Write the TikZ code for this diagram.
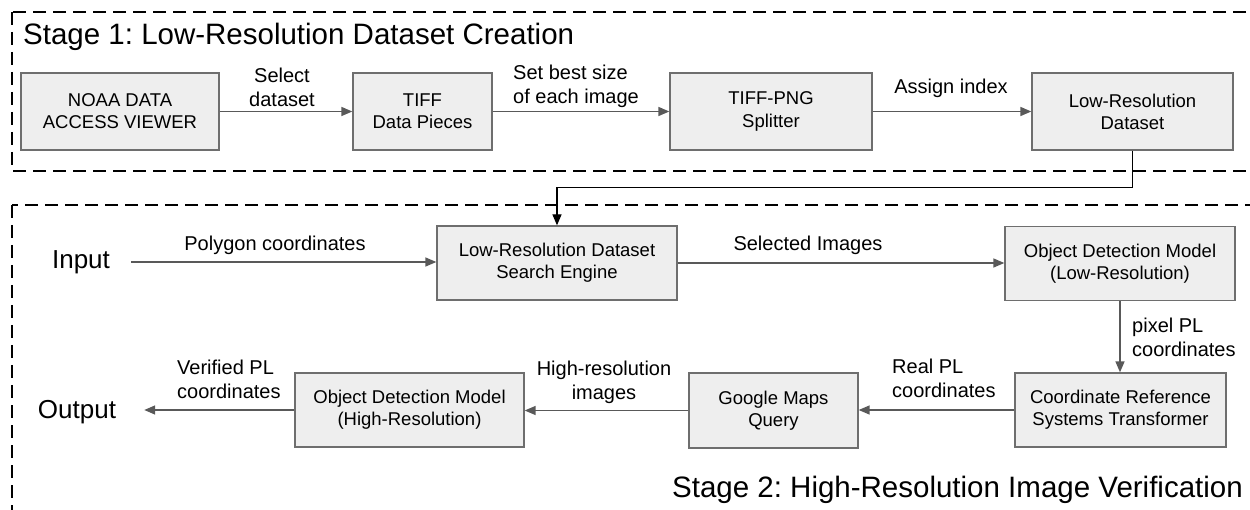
\documentclass[tikz,border=0pt]{standalone}
\usepackage{fontspec}
\setmainfont{Liberation Sans}
\usetikzlibrary{arrows.meta}
\frenchspacing
\definecolor{boxfill}{HTML}{EEEEEE}
\definecolor{boxline}{HTML}{6E6E6E}
\definecolor{flow}{HTML}{595959}
\tikzset{
  stagebox/.style={draw=black, line width=2pt, dash pattern=on 13pt off 7pt},
  proc/.style={draw=boxline, fill=boxfill, line width=1.3pt, inner sep=0pt,
    align=center, font=\fontsize{18.5}{22.2}\selectfont},
  flowarrow/.style={draw=flow, line width=1.5pt, -{Triangle[length=11pt,width=9pt]}},
  feed/.style={draw=black, line width=1.3pt, -{Triangle[length=11pt,width=9pt]}},
  lbl/.style={font=\fontsize{20}{24}\selectfont, inner sep=0pt},
  io/.style={font=\fontsize{26}{30}\selectfont, inner sep=0pt},
  stagetitle/.style={font=\fontsize{29.5}{34}\selectfont, inner sep=0pt},
}
\begin{document}
\begin{tikzpicture}[x=1pt, y=-1pt]
  \useasboundingbox (0,0) rectangle (1250,510);
  \clip (0,0) rectangle (1250,510);

  % stage frames (open to the right and bottom)
  \draw[stagebox] (12,12) rectangle (1280,171);
  \draw[stagebox] (12,205) rectangle (1280,540);

  \node[stagetitle, anchor=west] (t1) at (23,37) {Stage 1: Low-Resolution Dataset Creation};
  \node[stagetitle, anchor=east] (t2) at (1243,490) {Stage 2: High-Resolution Image Verification};

  % stage 1 pipeline
  \node[proc, minimum width=198pt, minimum height=77pt] (noaa)  at (120,111.5)  {NOAA DATA\\ACCESS VIEWER};
  \node[proc, minimum width=139pt, minimum height=77pt] (tiff)  at (422.5,111.5) {TIFF\\Data Pieces};
  \node[proc, minimum width=202pt, minimum height=77pt] (split) at (771,111.5)  {TIFF-PNG\\Splitter};
  \node[proc, minimum width=201pt, minimum height=77pt] (lowds) at (1132.5,111.5) {Low-Resolution\\Dataset};

  \draw[flowarrow] (noaa.east) -- (tiff.west);
  \draw[flowarrow] (tiff.east) -- (split.west);
  \draw[flowarrow] (split.east) -- (lowds.west);

  \node[lbl, align=center] (l1) at (282,87) {Select\\dataset};
  \node[lbl, align=left, anchor=west] (l2) at (513,86.5) {Set best size\\of each image};
  \node[lbl] (l3) at (951,88) {Assign index};

  % stage 2 pipeline
  \node[io] (input)  at (81,262) {Input};
  \node[io] (output) at (77,412) {Output};

  \node[proc, minimum width=240pt, minimum height=74pt] (search) at (557,263)    {Low-Resolution Dataset\\Search Engine};
  \node[proc, minimum width=230pt, minimum height=74pt] (odml)   at (1120,263.5) {Object Detection Model\\(Low-Resolution)};
  \node[proc, minimum width=211pt, minimum height=74pt] (crs)    at (1120.5,410) {Coordinate Reference\\Systems Transformer};
  \node[proc, minimum width=169pt, minimum height=75pt] (gmaps)  at (773.5,410.5) {Google Maps\\Query};
  \node[proc, minimum width=229pt, minimum height=74pt] (odmh)   at (409.5,410)  {Object Detection Model\\(High-Resolution)};

  \draw[feed] (lowds.south) -- ++(0,37) -| (search.north);

  \draw[flowarrow, shorten <=21pt] (input.east) -- (input.east -| search.west);
  \draw[flowarrow] (search.east) -- (search.east -| odml.west);
  \draw[flowarrow] (odml.south) -- (odml.south |- crs.north);
  \draw[flowarrow] (crs.west) -- (crs.west -| gmaps.east);
  \draw[flowarrow] (gmaps.west) -- (gmaps.west -| odmh.east);
  \draw[flowarrow, shorten >=28pt] (odmh.west) -- (odmh.west -| output.east);

  \node[lbl] (l4) at (275,245) {Polygon coordinates};
  \node[lbl] (l5) at (808,245) {Selected Images};
  \node[lbl, align=left, anchor=west] (l6) at (1132,337.5) {pixel PL\\coordinates};
  \node[lbl, align=left, anchor=west] (l7) at (892,378.5) {Real PL\\coordinates};
  \node[lbl, align=center] (l8) at (604,382) {High-resolution\\images};
  \node[lbl, align=left, anchor=west] (l9) at (177,379.5) {Verified PL\\coordinates};
\end{tikzpicture}
\end{document}
